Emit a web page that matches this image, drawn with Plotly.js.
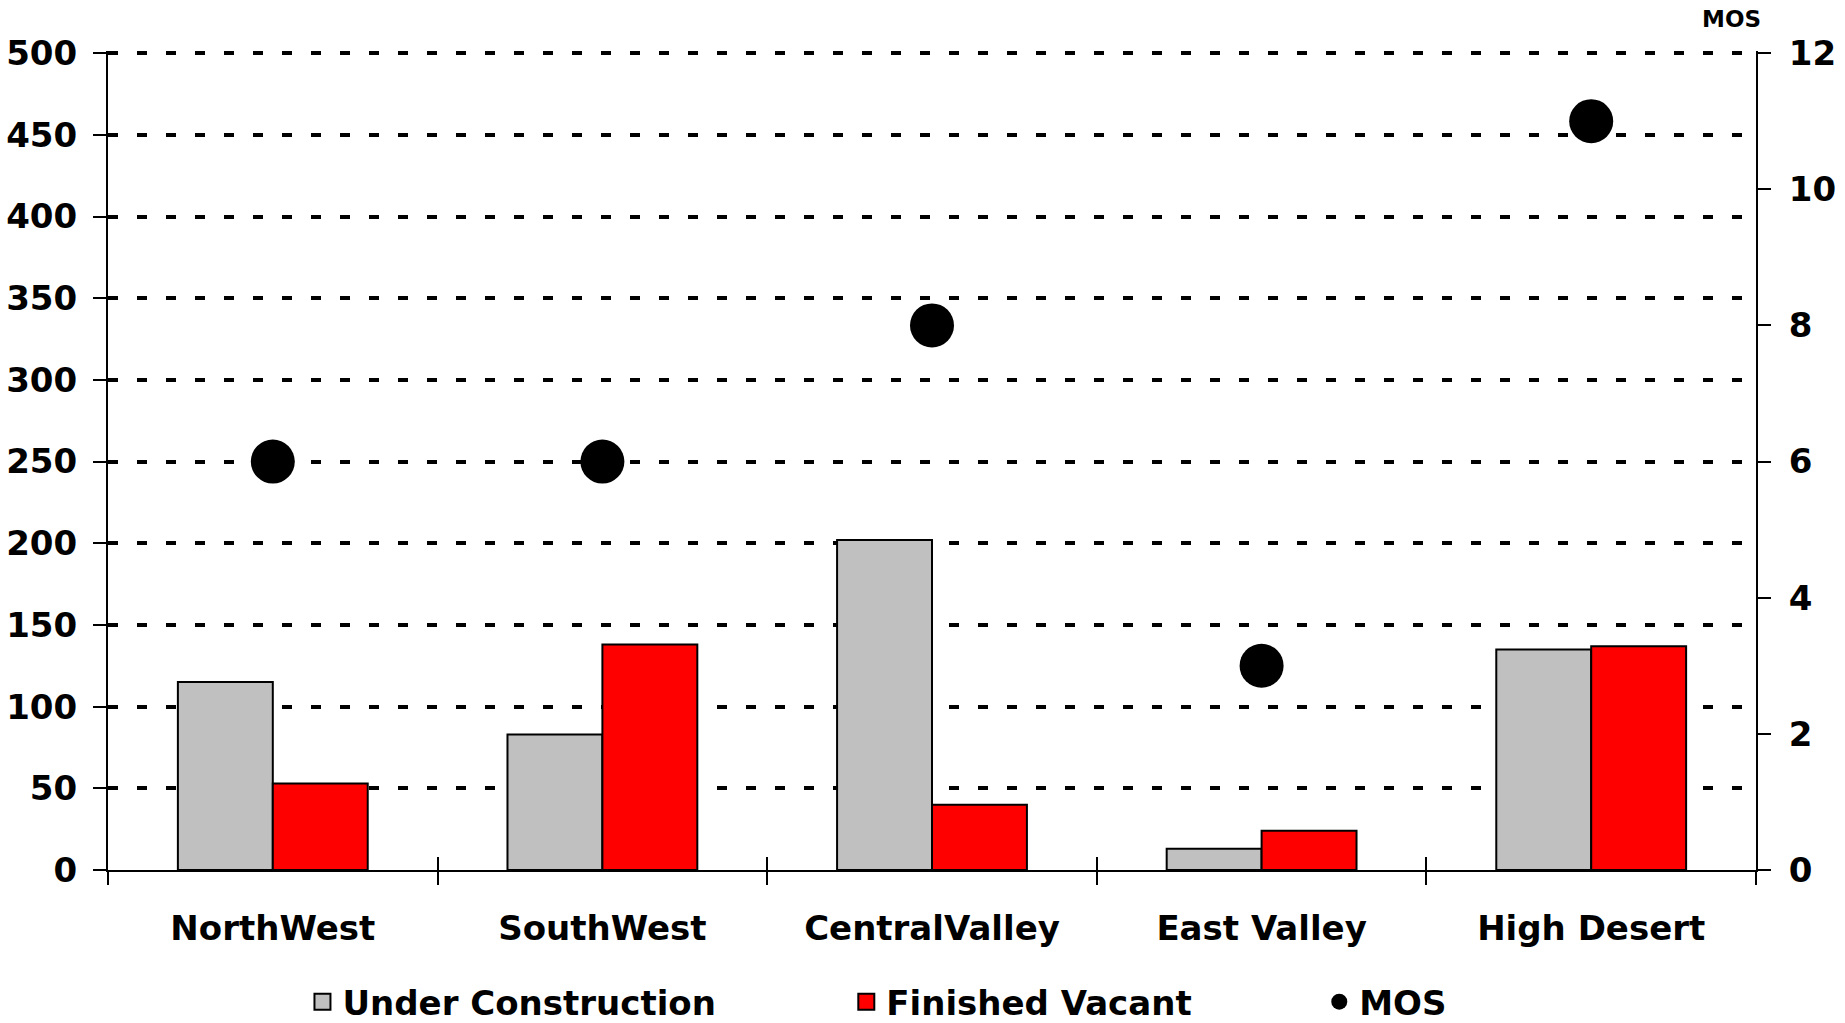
<!DOCTYPE html>
<html>
<head>
<meta charset="utf-8">
<script src="https://cdn.plot.ly/plotly-3.0.1.min.js"></script>
<style>html,body{margin:0;padding:0;background:#fff;}#chart{width:1845px;height:1023px;}</style>
</head>
<body>
<div id="chart"></div>
<script>
const regions = ["NorthWest", "SouthWest", "CentralValley", "East Valley", "High Desert"];
const underConstruction = [115, 83, 202, 13, 135];
const finishedVacant = [53, 138, 40, 24, 137];
const mos = [6, 6, 8, 3, 11];
const leftTicks = [0, 50, 100, 150, 200, 250, 300, 350, 400, 450, 500];
const rightTicks = [0, 2, 4, 6, 8, 10, 12];

const FONT = 'Verdana, "DejaVu Sans", sans-serif';
const tickFont = {family: FONT, size: 34, color: '#000', weight: 'bold'};

const traces = [
  {type: 'bar', name: 'Under Construction', x: regions, y: underConstruction,
   marker: {color: '#C0C0C0', line: {color: '#000', width: 2}}, showlegend: false},
  {type: 'bar', name: 'Finished Vacant', x: regions, y: finishedVacant,
   marker: {color: '#FF0000', line: {color: '#000', width: 2}}, showlegend: false},
  {type: 'scatter', mode: 'markers', name: 'MOS', x: regions, y: mos, xaxis: 'x2', yaxis: 'y2',
   marker: {color: '#000', size: 44}, showlegend: false},
  // legend entries
  {type: 'scatter', mode: 'markers', name: 'Under Construction', x: [null], y: [null], xaxis: 'x2', yaxis: 'y2',
   marker: {symbol: 'square', color: '#C0C0C0', size: 16, line: {color: '#000', width: 2}}, legend: 'legend', showlegend: true},
  {type: 'scatter', mode: 'markers', name: 'Finished Vacant', x: [null], y: [null], xaxis: 'x2', yaxis: 'y2',
   marker: {symbol: 'square', color: '#FF0000', size: 16, line: {color: '#000', width: 2}}, legend: 'legend2', showlegend: true},
  {type: 'scatter', mode: 'markers', name: 'MOS', x: [null], y: [null], xaxis: 'x2', yaxis: 'y2',
   marker: {symbol: 'circle', color: '#000', size: 16}, legend: 'legend3', showlegend: true}
];

const legendBase = {orientation: 'h', yref: 'container', yanchor: 'middle', y: 0.0205, xanchor: 'left',
  font: {family: FONT, size: 34, color: '#000', weight: 'bold'}, bgcolor: 'rgba(0,0,0,0)', itemsizing: 'trace'};

const catRange = [-0.5, 4.5];
const leftRange = [0, 501.3];
const rightRange = [0, 12.0312];

const layout = {
  width: 1845, height: 1023,
  margin: {l: 108, r: 89, t: 50.5, b: 153},
  paper_bgcolor: '#fff', plot_bgcolor: '#fff',
  showlegend: true,
  barmode: 'group', bargap: 0.424, bargroupgap: 0,
  xaxis: {type: 'category', categoryarray: regions, range: catRange, tickson: 'boundaries', ticks: 'outside', ticklen: 13,
    tickwidth: 2, tickcolor: '#000', showline: true, linecolor: '#000', linewidth: 2,
    showgrid: false, tickfont: tickFont, ticklabelstandoff: 27, zeroline: false},
  xaxis2: {type: 'category', categoryarray: regions, range: catRange, overlaying: 'x', side: 'bottom', tickson: 'boundaries',
    ticks: 'inside', ticklen: 13, tickwidth: 2, tickcolor: '#000', showticklabels: false,
    showline: false, showgrid: false, zeroline: false},
  yaxis: {range: leftRange, tickvals: leftTicks, ticks: 'outside', ticklen: 13, tickwidth: 2, tickcolor: '#000',
    showline: true, linecolor: '#000', linewidth: 2, zeroline: false,
    showgrid: true, gridcolor: '#000', gridwidth: 4, griddash: '10px,19px',
    tickfont: tickFont, ticklabelstandoff: 9},
  yaxis3: {range: leftRange, tickvals: leftTicks, overlaying: 'y', side: 'left', ticks: 'inside', ticklen: 13,
    tickwidth: 2, tickcolor: '#000', showticklabels: false, showgrid: false, zeroline: false, showline: false},
  yaxis2: {range: rightRange, tickvals: rightTicks, overlaying: 'y', side: 'right', ticks: 'outside', ticklen: 13,
    tickwidth: 2, tickcolor: '#000', showline: true, linecolor: '#000', linewidth: 2, zeroline: false,
    showgrid: false, tickfont: tickFont, ticklabelstandoff: 11},
  yaxis4: {range: rightRange, tickvals: rightTicks, overlaying: 'y', side: 'right', ticks: 'inside', ticklen: 13,
    tickwidth: 2, tickcolor: '#000', showticklabels: false, showgrid: false, zeroline: false, showline: false},
  legend: Object.assign({}, legendBase, {x: 0.118}),
  legend2: Object.assign({}, legendBase, {x: 0.448}),
  legend3: Object.assign({}, legendBase, {x: 0.735}),
  annotations: [{text: 'MOS', xref: 'paper', yref: 'paper', x: 0.985, y: 1.039, xanchor: 'center', yanchor: 'middle',
    showarrow: false, font: {family: FONT, size: 23, color: '#000', weight: 'bold'}}]
};

Plotly.newPlot('chart', traces, layout, {displayModeBar: false, staticPlot: true});
</script>
</body>
</html>
